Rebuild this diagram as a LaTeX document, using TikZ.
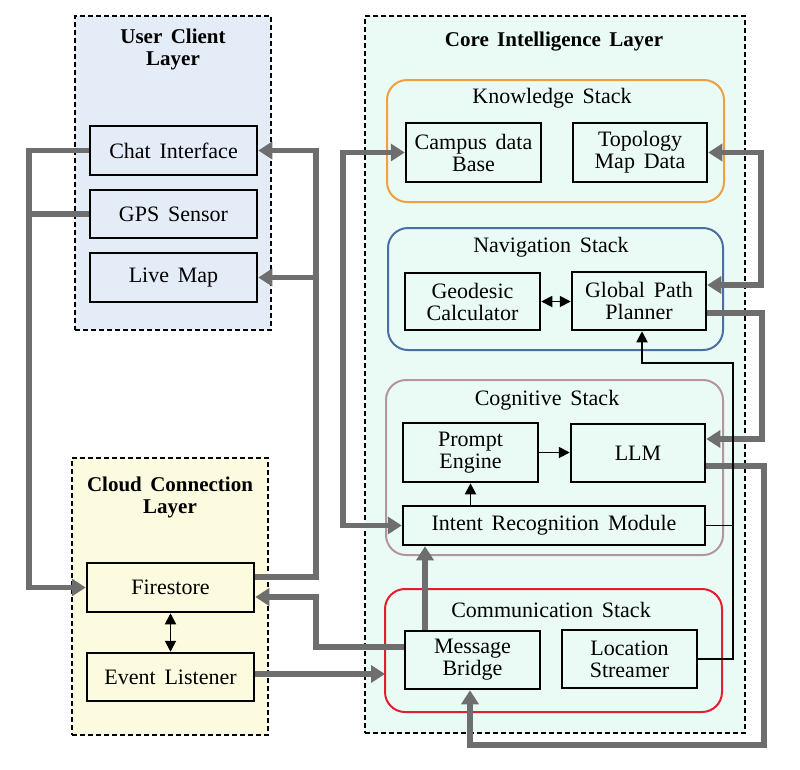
\documentclass[tikz,border=0pt]{standalone}
\usepackage{fontspec}
\setmainfont{Liberation Serif}[WordSpace=1.6]
\usetikzlibrary{arrows.meta}
\definecolor{userfill}{HTML}{E4ECF7}
\definecolor{cloudfill}{HTML}{FCFADF}
\definecolor{corefill}{HTML}{EAFBF6}
\definecolor{knowc}{HTML}{F0A040}
\definecolor{navc}{HTML}{4A6FA0}
\definecolor{cogc}{HTML}{B3959E}
\definecolor{commc}{HTML}{E0202E}
\definecolor{glinec}{HTML}{6E6E6E}
\begin{document}
\begin{tikzpicture}[x=1pt,y=-1pt,
 layerbox/.style={draw=black, line width=1.5pt, dash pattern=on 5pt off 3pt, anchor=north west, inner sep=0pt, outer sep=0pt},
 stackbox/.style={draw, line width=2pt, rounded corners=20pt, anchor=north west, inner sep=0pt, outer sep=0pt},
 unit/.style={draw=black, line width=2.5pt, inner sep=0pt, align=center, font=\fontsize{22}{22}\selectfont},
 ttl/.style={align=center, font=\bfseries\fontsize{21}{22}\selectfont},
 stl/.style={font=\fontsize{22}{22}\selectfont},
 gtip/.tip={Triangle[length=14pt,width=17pt]},
 ttip/.tip={Triangle[length=11pt,width=11pt]},
 garrow/.style={draw=glinec, line width=5.5pt, -gtip},
 gboth/.style={draw=glinec, line width=5.5pt, gtip-gtip},
 gplain/.style={draw=glinec, line width=5.5pt},
 tarrow/.style={draw=black, line width=1.8pt, -ttip},
 tboth/.style={draw=black, line width=1.8pt, ttip-ttip},
 tplain/.style={draw=black, line width=1.8pt},
]
\useasboundingbox (0,0) rectangle (800,769);
\fill[white] (0,0) rectangle (800,769);

% layers
\node[layerbox, fill=userfill, minimum width=196pt, minimum height=314pt] (userL) at (75,16) {};
\node[layerbox, fill=cloudfill, minimum width=196pt, minimum height=277pt] (cloudL) at (72,458) {};
\node[layerbox, fill=corefill, minimum width=380pt, minimum height=717pt] (coreL) at (365,16) {};

% stacks
\node[stackbox, draw=knowc, minimum width=337pt, minimum height=122pt] (know) at (387,80) {};
\node[stackbox, draw=navc, minimum width=335pt, minimum height=122pt] (nav) at (388,228) {};
\node[stackbox, draw=cogc, minimum width=337pt, minimum height=175pt] (cog) at (386,380) {};
\node[stackbox, draw=commc, minimum width=337pt, minimum height=123pt] (comm) at (385,589) {};

% titles
\node[ttl] (userT) at (173,49) {User Client\\Layer};
\node[ttl] (cloudT) at (170,497) {Cloud Connection\\Layer};
\node[ttl] (coreT) at (554,42) {Core Intelligence Layer};
\node[stl] (knowT) at (552,98) {Knowledge Stack};
\node[stl] (navT) at (551,247) {Navigation Stack};
\node[stl] (cogT) at (547,400) {Cognitive Stack};
\node[stl] (commT) at (551,610) {Communication Stack};

% user client boxes
\node[unit, fill=userfill, minimum width=167pt, minimum height=49pt] (chat) at (173.5,150.5) {Chat Interface};
\node[unit, fill=userfill, minimum width=167pt, minimum height=48pt] (gps) at (173.5,214) {GPS Sensor};
\node[unit, fill=userfill, minimum width=167pt, minimum height=49pt] (live) at (173.5,277.5) {Live Map};

% cloud boxes
\node[unit, fill=cloudfill, minimum width=167pt, minimum height=49pt] (fire) at (170.5,587.5) {Firestore};
\node[unit, fill=cloudfill, minimum width=167pt, minimum height=48pt] (event) at (170.5,677) {Event Listener};

% core boxes
\node[unit, fill=corefill, minimum width=135pt, minimum height=59pt] (campus) at (473.5,152.5) {Campus data\\Base};
\node[unit, fill=corefill, minimum width=134pt, minimum height=59pt] (topo) at (640,152.5) {Topology\\Map Data};
\node[unit, fill=corefill, minimum width=135pt, minimum height=57pt] (geo) at (472.5,301.5) {Geodesic\\Calculator};
\node[unit, fill=corefill, minimum width=134pt, minimum height=58pt] (gpp) at (639,301) {Global Path\\Planner};
\node[unit, fill=corefill, minimum width=135pt, minimum height=59pt] (prompt) at (470.5,452.5) {Prompt\\Engine};
\node[unit, fill=corefill, minimum width=134pt, minimum height=58pt] (llm) at (638,453) {LLM};
\node[unit, fill=corefill, minimum width=302pt, minimum height=39pt] (intent) at (554,525.5) {Intent Recognition Module};
\node[unit, fill=corefill, minimum width=135pt, minimum height=58pt] (mb) at (472.5,660) {Message\\Bridge};
\node[unit, fill=corefill, minimum width=135pt, minimum height=58pt] (ls) at (629.5,659) {Location\\Streamer};

% gray connectors
\draw[garrow] (chat.west) -- (29,150.5) -- (29,587.5) -- (fire.west);
\draw[gplain] (gps.west) -- (31,214);
\draw[garrow] ([yshift=10.5pt]fire.east) -- (316,577) -- (316,150.5) -- (chat.east);
\draw[garrow] (316,277.5) -- (live.east);
\draw[garrow] ([yshift=13pt]mb.west) -- (316,647) -- (316,597) -- ([yshift=-9.5pt]fire.east);
\draw[garrow] ([yshift=3pt]event.east) -- ([yshift=3pt]event.east -| comm.west);
\draw[gboth] (campus.west) -- (343,152.5) -- (343,525.5) -- (intent.west);
\draw[garrow] ([xshift=-47.5pt]mb.north) -- ([xshift=-129pt]intent.south);
\draw[gboth] (topo.east) -- (761,152.5) -- (761,285) -- ([yshift=16pt]gpp.east);
\draw[garrow] ([yshift=-12pt]gpp.east) -- (762,313) -- (762,439) -- ([yshift=14pt]llm.east);
\draw[garrow] ([yshift=-13pt]llm.east) -- (764,466) -- (764,745) -- (470,745) -- ([xshift=-2.5pt]mb.south);

% thin connectors
\draw[tarrow] (ls.east) -- (733,659) -- (733,363) -- (642,363) -- ([xshift=3pt]gpp.south);
\draw[tplain] (intent.east) -- (733,525.5);
\draw[tboth] (geo.east) -- (geo.east -| gpp.west);
\draw[tarrow] (prompt.east) -- (prompt.east -| llm.west);
\draw[tarrow] (prompt.south |- intent.north) -- (prompt.south);
\draw[tboth] (fire.south) -- (event.north);
\end{tikzpicture}
\end{document}
